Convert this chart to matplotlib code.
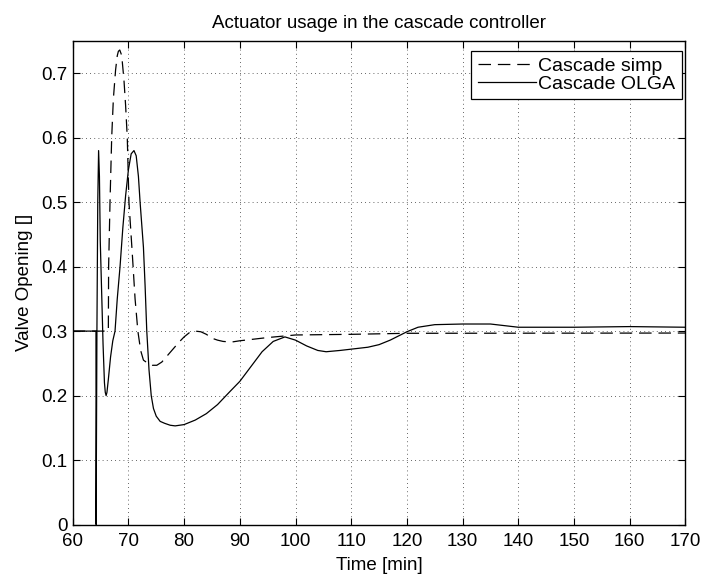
import numpy as np
import matplotlib
matplotlib.use("Agg")
import matplotlib.pyplot as plt

# Cascade simp (dashed)
simp_t = [60, 66.4, 66.45, 66.7, 67.0, 67.3, 67.7, 68.0, 68.2, 68.45, 68.7, 68.9, 69.2,
          69.5, 69.8, 70.1, 70.4, 70.7, 71.2, 71.7, 72.2, 72.7, 73.5, 74.3, 75.1, 76,
          77, 78, 79, 80, 81, 82, 83, 84, 85, 86, 87, 88.5, 90, 92, 95, 100, 110, 120,
          170]
simp_v = [0.3, 0.3, 0.4, 0.5, 0.6, 0.66, 0.705, 0.727, 0.734, 0.736, 0.73, 0.718,
          0.69, 0.65, 0.6, 0.5, 0.46, 0.42, 0.35, 0.3, 0.27, 0.255, 0.25, 0.247, 0.247,
          0.252, 0.262, 0.272, 0.282, 0.291, 0.298, 0.3, 0.299, 0.295, 0.289, 0.286,
          0.284, 0.283, 0.285, 0.287, 0.29, 0.294, 0.295, 0.2966, 0.297]

# Cascade OLGA (solid)
olga_t = [60, 64.18, 64.2, 64.35, 64.5, 64.65, 64.8, 64.95, 65.2, 65.45, 65.7, 65.85,
          66.0, 66.15, 66.4, 66.8, 67.2, 67.6, 68.0, 68.5, 69.0, 69.5, 70.0, 70.5,
          71.0, 71.4, 71.8, 72.1, 72.4, 72.7, 73.0, 73.3, 73.7, 74.1, 74.5, 75.0, 75.7,
          76.5, 77.5, 78.4, 80, 82, 84, 86, 88.2, 90, 92, 94, 96, 98.1, 100, 102, 104,
          105.5, 108, 110, 113, 115, 117, 120, 122, 125, 130, 135, 138, 140, 145, 150,
          160, 170]
olga_v = [0.3, 0.3, 0.0, 0.3, 0.5, 0.58, 0.54, 0.44, 0.36, 0.28, 0.22, 0.205,
          0.2, 0.205, 0.225, 0.26, 0.285, 0.3, 0.35, 0.4, 0.46, 0.51, 0.55, 0.575,
          0.58, 0.572, 0.54, 0.5, 0.465, 0.43, 0.37, 0.3, 0.24, 0.2, 0.18, 0.168,
          0.16, 0.157, 0.154, 0.153, 0.155, 0.162, 0.172, 0.186, 0.206, 0.222, 0.245,
          0.268, 0.284, 0.291, 0.286, 0.277, 0.27, 0.268, 0.27, 0.272, 0.275, 0.279,
          0.286, 0.299, 0.306, 0.31, 0.311, 0.311, 0.308, 0.306, 0.306, 0.306, 0.307,
          0.306]

x_ticks = np.arange(60, 171, 10)
y_ticks = np.arange(0, 0.71, 0.1)

plt.rcParams['font.family'] = ['Liberation Sans', 'DejaVu Sans']
fig = plt.figure(figsize=(7.03, 5.74), dpi=100)
ax = fig.add_axes([0.1034, 0.0862, 0.8716, 0.8424])

ax.plot(simp_t, simp_v, color='black', lw=0.9, linestyle=(0, (10, 5.5)), label='Cascade simp')
ax.plot(olga_t, olga_v, color='black', lw=0.9, label='Cascade OLGA')

ax.set_xlim(60, 170)
ax.set_ylim(0, 0.75)
ax.set_xticks(x_ticks)
ax.set_yticks(y_ticks)
ax.set_yticklabels(['0'] + [f'{v:.1f}' for v in y_ticks[1:]])
ax.tick_params(direction='in', top=True, right=True, labelsize=13.5, length=5, width=0.8)
ax.tick_params(axis='x', pad=6)
ax.tick_params(axis='y', pad=3.5)
ax.grid(True, color='black', linestyle=(0, (1, 4)), lw=0.6, alpha=0.8)
for s in ax.spines.values():
    s.set_linewidth(1.0)

ax.set_xlabel('Time [min]', fontsize=13.5, labelpad=5)
ax.set_ylabel('Valve Opening []', fontsize=13.5, labelpad=6)
ax.set_title('Actuator usage in the cascade controller', fontsize=13.5, pad=9)

leg = ax.legend(loc='upper right', bbox_to_anchor=(0.994, 0.98), fontsize=14,
                fancybox=False, framealpha=1, edgecolor='black', handlelength=3.0,
                borderpad=0.35, labelspacing=0.0, handletextpad=0.1, borderaxespad=0)
leg.get_frame().set_linewidth(0.9)

fig.savefig('out.png', dpi=100)
